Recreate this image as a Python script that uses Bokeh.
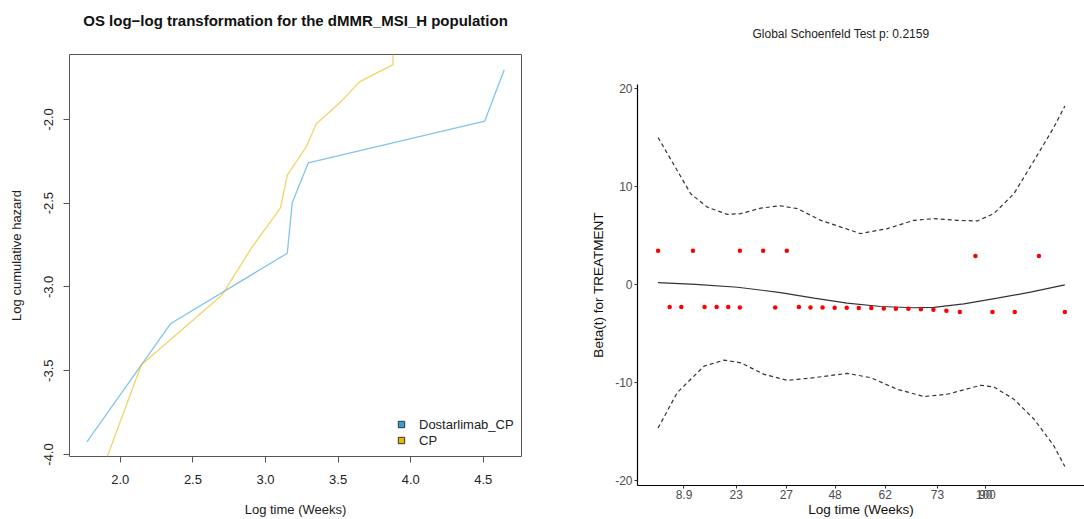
from bokeh.plotting import figure
from bokeh.layouts import row, column
from bokeh.models import FixedTicker, Range1d, Legend, LegendItem, Title, Spacer
from bokeh.embed import file_html
from bokeh.resources import INLINE

FONT = "Liberation Sans"

# ---------------- Left panel data (log-log cumulative hazard) ----------------
dostar_x = [1.770, 2.345, 3.150, 3.184, 3.294, 4.510, 4.644]
dostar_y = [-3.924, -3.220, -2.799, -2.498, -2.260, -2.010, -1.704]
cp_x = [1.890, 2.145, 2.701, 2.901, 3.103, 3.150, 3.280, 3.350, 3.517, 3.644, 3.878, 3.878]
cp_y = [-4.060, -3.464, -3.048, -2.770, -2.528, -2.333, -2.165, -2.026, -1.897, -1.778, -1.673, -1.450]
left_xticks = [2.0, 2.5, 3.0, 3.5, 4.0, 4.5]
left_xlabels = ["2.0", "2.5", "3.0", "3.5", "4.0", "4.5"]
left_yticks = [-4.0, -3.5, -3.0, -2.5, -2.0]
left_ylabels = ["-4.0", "-3.5", "-3.0", "-2.5", "-2.0"]
series_names = ["Dostarlimab_CP", "CP"]
series_colors = ["#2E9FDF", "#E7B800"]
left_title = "OS log\u2212log transformation for the dMMR_MSI_H population"

# ---------------- Right panel data (Schoenfeld residuals) ----------------
km_ticks = [0.104, 0.221, 0.333, 0.442, 0.554, 0.671, 0.779, 0.7791]
time_labels = ["8.9", "23", "27", "48", "62", "73", "90", "100"]
right_yticks = [-20, -10, 0, 10, 20]
right_ylabels = ["-20", "-10", "0", "10", "20"]
right_title = "Global Schoenfeld Test p: 0.2159"

resid_hi_x = [0.046, 0.124, 0.229, 0.281, 0.334, 0.756, 0.898]
resid_hi_y = [3.44, 3.44, 3.44, 3.44, 3.44, 2.91, 2.91]
resid_lo_x = [0.072, 0.098, 0.150, 0.177, 0.203, 0.229, 0.308, 0.361, 0.387, 0.414, 0.441, 0.468,
              0.495, 0.523, 0.551, 0.578, 0.606, 0.634, 0.662, 0.691, 0.721, 0.794, 0.844, 0.956]
resid_lo_y = [-2.29, -2.29, -2.29, -2.29, -2.29, -2.33, -2.33, -2.29, -2.33, -2.33, -2.36, -2.36,
              -2.39, -2.39, -2.43, -2.46, -2.46, -2.50, -2.56, -2.66, -2.80, -2.80, -2.80, -2.80]

fit_x = [0.046, 0.130, 0.224, 0.320, 0.395, 0.469, 0.544, 0.618, 0.663, 0.730, 0.805, 0.879, 0.956]
fit_y = [0.20, 0.02, -0.27, -0.81, -1.38, -1.89, -2.23, -2.36, -2.33, -1.96, -1.38, -0.77, -0.03]

ub_x = [0.046, 0.119, 0.156, 0.201, 0.231, 0.276, 0.320, 0.358, 0.410, 0.499, 0.559, 0.618,
        0.663, 0.715, 0.760, 0.797, 0.842, 0.887, 0.931, 0.956]
ub_y = [15.0, 9.26, 7.90, 7.16, 7.23, 7.80, 8.04, 7.74, 6.55, 5.20, 5.71, 6.55,
        6.72, 6.55, 6.49, 7.23, 9.26, 12.63, 16.0, 18.2]
lb_x = [0.046, 0.089, 0.149, 0.194, 0.231, 0.283, 0.335, 0.395, 0.469, 0.522, 0.581, 0.641,
        0.693, 0.768, 0.797, 0.842, 0.887, 0.931, 0.956]
lb_y = [-14.62, -11.0, -8.31, -7.70, -7.97, -9.15, -9.76, -9.49, -9.05, -9.49, -10.67, -11.41,
        -11.18, -10.26, -10.43, -11.68, -13.71, -16.41, -18.54]


def spacer_title(height):
    # an invisible panel that keeps the real title away from the frame
    return Title(text=".", text_font_size="1px", text_color="white", standoff=height)


def style_axis(ax, tick_color, tick_out, lab_size, lab_color, title_size, title_color, line_color):
    ax.axis_line_color = line_color
    ax.axis_line_width = 1.2
    ax.major_tick_line_color = tick_color
    ax.major_tick_out = tick_out
    ax.major_tick_in = 0
    ax.minor_tick_line_color = None
    ax.major_label_text_font = FONT
    ax.major_label_text_font_size = lab_size
    ax.major_label_text_color = lab_color
    ax.axis_label_text_font = FONT
    ax.axis_label_text_font_size = title_size
    ax.axis_label_text_font_style = "normal"
    ax.axis_label_text_color = title_color


# ======================= LEFT FIGURE =======================
p = figure(width=560, height=518, output_backend="svg", toolbar_location=None,
           x_range=Range1d(1.650, 4.763), y_range=Range1d(-4.012, -1.613),
           min_border_left=69, min_border_right=39, min_border_top=53, min_border_bottom=62)
p.background_fill_color = "white"
p.border_fill_color = "white"
p.outline_line_color = "#555555"
p.outline_line_width = 1
p.grid.visible = False

px_axis = p.below[0]
py_axis = p.left[0]

p.add_layout(spacer_title(21), "above")
p.title = Title(text=left_title, align="center", text_font=FONT, text_font_size="15px",
                text_font_style="bold", text_color="#111111", standoff=4)

p.line(dostar_x, dostar_y, line_color=series_colors[0], line_width=1.3, line_alpha=0.6)
p.line(cp_x, cp_y, line_color=series_colors[1], line_width=1.3, line_alpha=0.6)

for ax in (px_axis, py_axis):
    style_axis(ax, "#555555", 6, "13px", "#222222", "13px", "#222222", None)

px_axis.ticker = FixedTicker(ticks=left_xticks)
px_axis.major_label_overrides = dict(zip(left_xticks, left_xlabels))
px_axis.axis_label = "Log time (Weeks)"
px_axis.major_label_standoff = 12
px_axis.axis_label_standoff = 15

py_axis.ticker = FixedTicker(ticks=left_yticks)
py_axis.major_label_overrides = dict(zip(left_yticks, left_ylabels))
py_axis.major_label_orientation = "vertical"
py_axis.axis_label = "Log cumulative hazard"
py_axis.major_label_standoff = 10
py_axis.axis_label_standoff = 18

# legend swatches: zero-size markers on the series (invisible in the plot area)
leg_items = []
for name, col, xs, ys in zip(series_names, series_colors, [dostar_x, cp_x], [dostar_y, cp_y]):
    r = p.scatter(xs[:1], ys[:1], marker="square", fill_color=col, line_color="#333333", size=0)
    leg_items.append(LegendItem(label=name, renderers=[r]))
legend = Legend(items=leg_items, location=(322, 8), orientation="vertical",
                padding=0, margin=0, spacing=0, glyph_width=20, glyph_height=16,
                label_height=16, label_standoff=8,
                label_text_font=FONT, label_text_font_size="13px", label_text_color="#222222",
                border_line_color=None, background_fill_alpha=0)
p.add_layout(legend, "center")

# ======================= RIGHT FIGURE =======================
q = figure(width=524, height=519, output_backend="svg", toolbar_location=None,
           x_range=Range1d(0.0, 1.0), y_range=Range1d(-20.48, 20.4),
           min_border_left=77, min_border_right=0, min_border_top=84, min_border_bottom=32)
q.background_fill_color = "white"
q.border_fill_color = "white"
q.outline_line_color = None
q.grid.visible = False

qx_axis = q.below[0]
qy_axis = q.left[0]

q.add_layout(spacer_title(39), "above")
q.title = Title(text=right_title, align="left", offset=115, text_font=FONT,
                text_font_size="12px", text_font_style="normal", text_color="#222222",
                standoff=4)

q.line(ub_x, ub_y, line_color="#333333", line_width=1.2, line_dash="4 3")
q.line(lb_x, lb_y, line_color="#333333", line_width=1.2, line_dash="4 3")
q.line(fit_x, fit_y, line_color="#333333", line_width=1.2)
q.scatter(resid_hi_x, resid_hi_y, size=4.5, fill_color="#FF0000", line_color=None)
q.scatter(resid_lo_x, resid_lo_y, size=4.5, fill_color="#FF0000", line_color=None)

for ax in (qx_axis, qy_axis):
    style_axis(ax, "#333333", 3, "12px", "#4D4D4D", "13.5px", "#111111", "#000000")

qx_axis.ticker = FixedTicker(ticks=km_ticks)
qx_axis.major_label_overrides = dict(zip(km_ticks, time_labels))
qx_axis.axis_label = "Log time (Weeks)"
qx_axis.major_label_standoff = 1
qx_axis.axis_label_standoff = 0

qy_axis.ticker = FixedTicker(ticks=right_yticks)
qy_axis.major_label_overrides = dict(zip(right_yticks, right_ylabels))
qy_axis.axis_label = "Beta(t) for TREATMENT"
qy_axis.major_label_standoff = 2
qy_axis.axis_label_standoff = 6

layout = row(column(Spacer(width=560, height=1), p), q)
open("out.html", "w").write(file_html(layout, INLINE))
